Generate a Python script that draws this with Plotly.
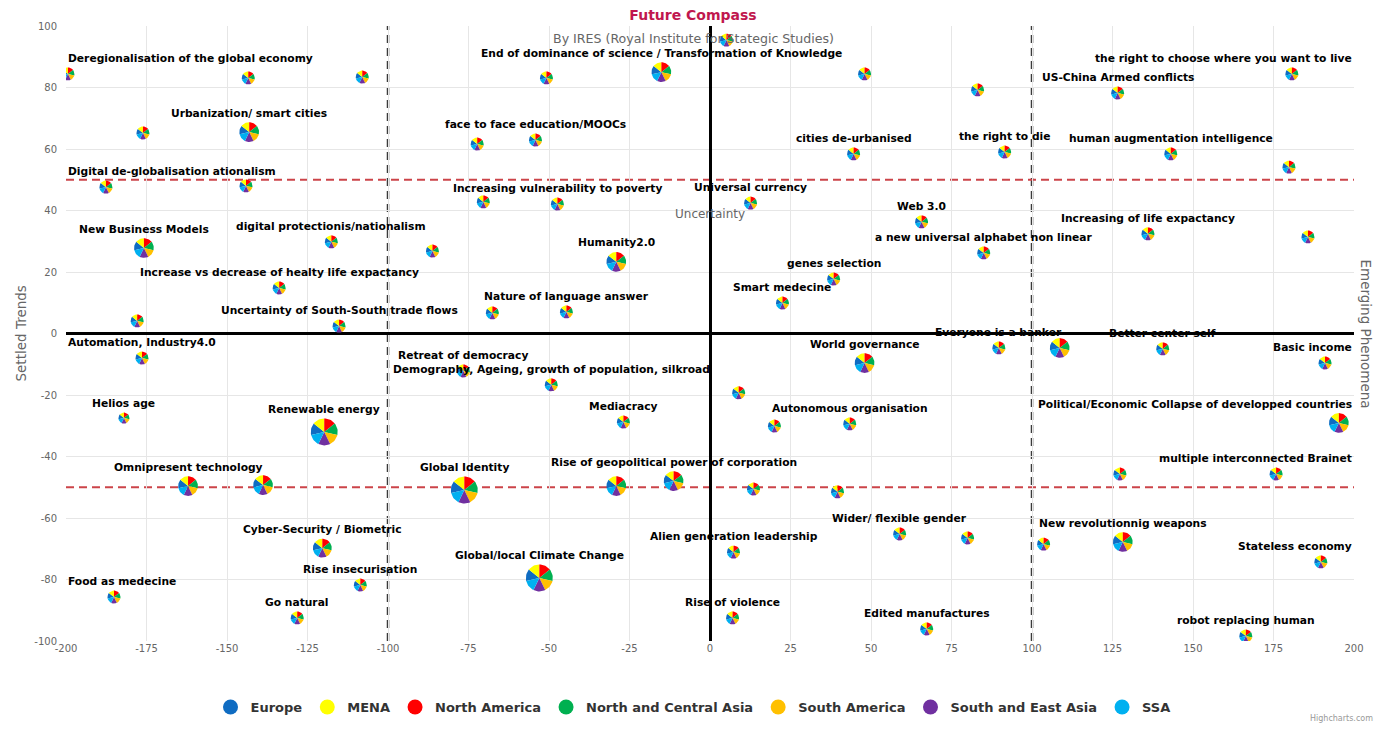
import math
import plotly.graph_objects as go

# ---------------- data ----------------
regions = ["Europe", "MENA", "North America", "North and Central Asia",
           "South America", "South and East Asia", "SSA"]
region_colors = ["#0f6cc2", "#ffff00", "#ff0000", "#00b050",
                 "#ffc000", "#7030a0", "#00b0f0"]
region_shares = [1, 1, 1, 1, 1, 1, 1]

x_ticks = [-200, -175, -150, -125, -100, -75, -50, -25, 0, 25, 50, 75, 100, 125, 150, 175, 200]
y_ticks = [-100, -80, -60, -40, -20, 0, 20, 40, 60, 80, 100]

labels = [
    "Deregionalisation of the global economy", "", "", "",
    "", "End of dominance of science / Transformation of Knowledge", "", "",
    "US-China Armed conflicts", "the right to choose where you want to live", "", "Urbanization/ smart cities",
    "", "face to face education/MOOCs", "cities de-urbanised", "the right to die",
    "human augmentation intelligence", "", "Digital de-globalisation ationalism", "",
    "", "Increasing vulnerability to poverty", "Universal currency", "Web 3.0",
    "a new universal alphabet non linear", "Increasing of life expactancy", "", "New Business Models",
    "digital protectionis/nationalism", "", "Humanity2.0", "Increase vs decrease of healty life expactancy",
    "genes selection", "Smart medecine", "", "Uncertainty of South-South trade flows",
    "", "Nature of language answer", "Automation, Industry4.0", "Everyone is a banker",
    "", "Better center self", "Basic income", "World governance",
    "Retreat of democracy", "Demography, Ageing, growth of population, silkroad", "", "Helios age",
    "Renewable energy", "Mediacracy", "", "Autonomous organisation",
    "Political/Economic Collapse of developped countries", "Omnipresent technology", "", "Global Identity",
    "", "Rise of geopolitical power of corporation", "", "",
    "", "multiple interconnected Brainet", "Cyber-Security / Biometric", "Wider/ flexible gender",
    "", "Alien generation leadership", "", "New revolutionnig weapons",
    "Global/local Climate Change", "Rise insecurisation", "Stateless economy", "Food as medecine",
    "Go natural", "Rise of violence", "Edited manufactures", "robot replacing human",
]
x_vals = [
    -199.4, -143.4, -108.0, 5.1,
    -50.8, -15.1, 48.0, 83.1,
    126.6, 180.7, -176.1, -143.1,
    -72.3, -54.2, 44.6, 91.5,
    143.1, 179.8, -187.6, -144.1,
    -70.4, -47.4, 12.6, 65.7,
    85.0, 136.0, 185.7, -175.8,
    -117.6, -86.2, -29.1, -133.8,
    38.4, 22.5, -177.9, -115.2,
    -67.6, -44.6, -176.4, 89.7,
    108.6, 140.6, 191.0, 48.0,
    -76.6, -49.3, 8.9, -182.0,
    -119.8, -26.9, 20.0, 43.4,
    195.3, -162.1, -138.8, -76.3,
    -29.1, -11.3, 13.5, 39.6,
    127.3, 175.8, -120.4, 58.9,
    80.0, 7.3, 103.6, 128.2,
    -53.0, -108.6, 189.7, -185.1,
    -128.2, 7.0, 67.3, 166.4,
]
y_vals = [
    84.4, 83.1, 83.4, 95.4,
    83.1, 85.0, 84.4, 79.2,
    78.2, 84.4, 65.2, 65.5,
    61.6, 62.9, 58.4, 59.0,
    58.4, 54.1, 47.6, 48.0,
    42.8, 42.1, 42.4, 36.3,
    26.2, 32.4, 31.4, 27.8,
    29.8, 26.8, 23.3, 14.8,
    17.7, 9.9, 4.1, 2.4,
    6.7, 7.0, -8.0, -4.7,
    -4.7, -5.0, -9.6, -9.6,
    -12.2, -16.7, -19.3, -27.5,
    -32.0, -28.8, -30.1, -29.4,
    -29.1, -49.6, -49.3, -50.9,
    -49.6, -48.0, -50.6, -51.5,
    -45.7, -45.7, -69.8, -65.2,
    -66.5, -71.1, -68.5, -67.8,
    -79.5, -81.8, -74.3, -85.7,
    -92.5, -92.5, -96.1, -98.4,
]
weights = [
    1, 1, 1, 1,
    1, 2.3, 1, 1,
    1, 1, 1, 2.3,
    1, 1, 1, 1,
    1, 1, 1, 1,
    1, 1, 1, 1,
    1, 1, 1, 2.3,
    1, 1, 2.3, 1,
    1, 1, 1, 1,
    1, 1, 1, 1,
    2.3, 1, 1, 2.3,
    1, 1, 1, 0.72,
    4.3, 1, 1, 1,
    2.3, 2.3, 2.3, 4.3,
    2.3, 2.3, 1, 1,
    1, 1, 2.1, 1,
    1, 1, 1, 2.3,
    4.3, 1, 1, 1,
    1, 1, 1, 1,
]

# ---------------- layout constants ----------------
OFF = 8                      # page body margin
PAGE_W, PAGE_H = 1386, 733
FW, FH = PAGE_W - 2 * OFF, PAGE_H - 2 * OFF
PLOT_L, PLOT_R, PLOT_T, PLOT_B = 66, 1354, 26, 641   # target page pixels
CHART_CX = PAGE_W / 2
ML = PLOT_L - OFF
MT = PLOT_T - OFF
MR = FW - (PLOT_R - OFF)
MB = FH - (PLOT_B - OFF)
X_MIN, X_MAX = -200, 200
Y_MIN, Y_MAX = -100, 100
BASE_R = 6.5
START_DEG = -360.0 * 2 / 7
FONT = "DejaVu Sans"
LABEL_SIZE = 10.7
CHAR_W = 6.4

plot_w = PLOT_R - PLOT_L
plot_h = PLOT_B - PLOT_T
px_per_x = plot_w / (X_MAX - X_MIN)
px_per_y = plot_h / (Y_MAX - Y_MIN)


def paper_y(page_y):
    return 1 - (page_y - PLOT_T) / plot_h


def paper_x(page_x):
    return (page_x - PLOT_L) / plot_w


fig = go.Figure()

# pies as wedge polygons (one trace per region)
total = sum(region_shares)
wx = {r: [] for r in regions}
wy = {r: [] for r in regions}
for cx, cy, w in zip(x_vals, y_vals, weights):
    rad = BASE_R * math.sqrt(w)
    a = START_DEG
    for reg, share in zip(regions, region_shares):
        span = 360.0 * share / total
        n = 10
        xs, ys = [cx], [cy]
        for i in range(n + 1):
            t = math.radians(a + span * i / n)
            xs.append(cx + rad * math.sin(t) / px_per_x)
            ys.append(cy + rad * math.cos(t) / px_per_y)
        xs += [cx, None]
        ys += [cy, None]
        wx[reg] += xs
        wy[reg] += ys
        a += span

for reg, col in zip(regions, region_colors):
    fig.add_trace(go.Scatter(
        x=wx[reg], y=wy[reg], mode="lines", fill="toself",
        fillcolor=col, line=dict(width=0, color=col),
        hoverinfo="skip", showlegend=False, legendgroup=reg))

for reg, col in zip(regions, region_colors):
    fig.add_trace(go.Scatter(
        x=[None], y=[None], mode="markers", name=reg, legendgroup=reg,
        marker=dict(size=15, color=col, symbol="circle")))

# data labels
annotations = []
for lab, cx, cy, w in zip(labels, x_vals, y_vals, weights):
    if not lab:
        continue
    rad = BASE_R * math.sqrt(w)
    cpx = (cx - X_MIN) * px_per_x
    half = len(lab) * CHAR_W / 2
    ann = dict(text="<b>%s</b>" % lab, y=cy, yref="y", yanchor="middle",
               yshift=rad + 9, showarrow=False,
               font=dict(family=FONT, size=LABEL_SIZE, color="#000000"))
    if cpx - half < 0:
        ann.update(x=0, xref="paper", xanchor="left")
    elif cpx + half > plot_w:
        ann.update(x=1, xref="paper", xanchor="right")
    else:
        ann.update(x=cx, xref="x", xanchor="center")
    annotations.append(ann)

# other texts
annotations += [
    dict(text="By IRES (Royal Institute for Stategic Studies)", x=paper_x(CHART_CX), xref="paper",
         xanchor="center", y=paper_y(38), yref="paper", yanchor="middle", showarrow=False,
         font=dict(family=FONT, size=12.6, color="#666666")),
    dict(text="Uncertainty", x=0, xref="x", xanchor="center", y=38.9, yref="y",
         yanchor="middle", showarrow=False,
         font=dict(family=FONT, size=12, color="#666666")),
    dict(text="Settled Trends", x=paper_x(20), xref="paper", xanchor="center",
         y=0, yref="y", yanchor="middle", textangle=-90, showarrow=False,
         font=dict(family=FONT, size=13.5, color="#666666")),
    dict(text="Emerging Phenomena", x=paper_x(1366), xref="paper", xanchor="center",
         y=0, yref="y", yanchor="middle", textangle=90, showarrow=False,
         font=dict(family=FONT, size=13.5, color="#666666")),
    dict(text="Highcharts.com", x=1, xref="paper", xanchor="right", xshift=1375 - PLOT_R,
         y=paper_y(719), yref="paper", yanchor="middle",
         showarrow=False, font=dict(family=FONT, size=8, color="#999999")),
]

shapes = [
    dict(type="line", xref="x", yref="paper", x0=-100, x1=-100, y0=0, y1=1,
         line=dict(color="#3a3a3a", width=2.5, dash="8px,5px"), layer="below"),
    dict(type="line", xref="x", yref="paper", x0=100, x1=100, y0=0, y1=1,
         line=dict(color="#3a3a3a", width=2.5, dash="8px,5px"), layer="below"),
    dict(type="line", xref="paper", yref="y", x0=0, x1=1, y0=50, y1=50,
         line=dict(color="#cc4449", width=2, dash="8px,5px"), layer="below"),
    dict(type="line", xref="paper", yref="y", x0=0, x1=1, y0=-50, y1=-50,
         line=dict(color="#cc4449", width=2, dash="8px,5px"), layer="below"),
]

fig.update_layout(
    width=FW, height=FH,
    margin=dict(l=ML, r=MR, t=MT, b=MB, autoexpand=False),
    paper_bgcolor="white", plot_bgcolor="white",
    title=dict(text="<b>Future Compass</b>", x=0.5, xanchor="center",
               y=1 - (15 - OFF) / FH, yanchor="middle", yref="container",
               font=dict(family=FONT, size=14, color="#c0174e")),
    xaxis=dict(range=[X_MIN, X_MAX], tickvals=x_ticks, ticktext=[str(v) for v in x_ticks],
               showgrid=True, gridcolor="#e6e6e6", gridwidth=1, zeroline=True,
               zerolinecolor="#000000", zerolinewidth=3, showline=False,
               tickfont=dict(family=FONT, size=10, color="#666666"),
               automargin=False, fixedrange=True),
    yaxis=dict(range=[Y_MIN, Y_MAX], tickvals=y_ticks, ticktext=[str(v) for v in y_ticks],
               showgrid=True, gridcolor="#e6e6e6", gridwidth=1, zeroline=True,
               zerolinecolor="#000000", zerolinewidth=3, showline=False,
               tickfont=dict(family=FONT, size=10, color="#666666"),
               ticklabelstandoff=8, automargin=False, fixedrange=True),
    legend=dict(orientation="h", x=paper_x(CHART_CX), xanchor="center",
                y=paper_y(707), yanchor="middle",
                font=dict(family=FONT, size=13, color="#333333", weight="bold"),
                itemclick=False, itemdoubleclick=False),
    annotations=annotations,
    shapes=shapes,
    showlegend=True,
)

fig.write_html("out.html")
